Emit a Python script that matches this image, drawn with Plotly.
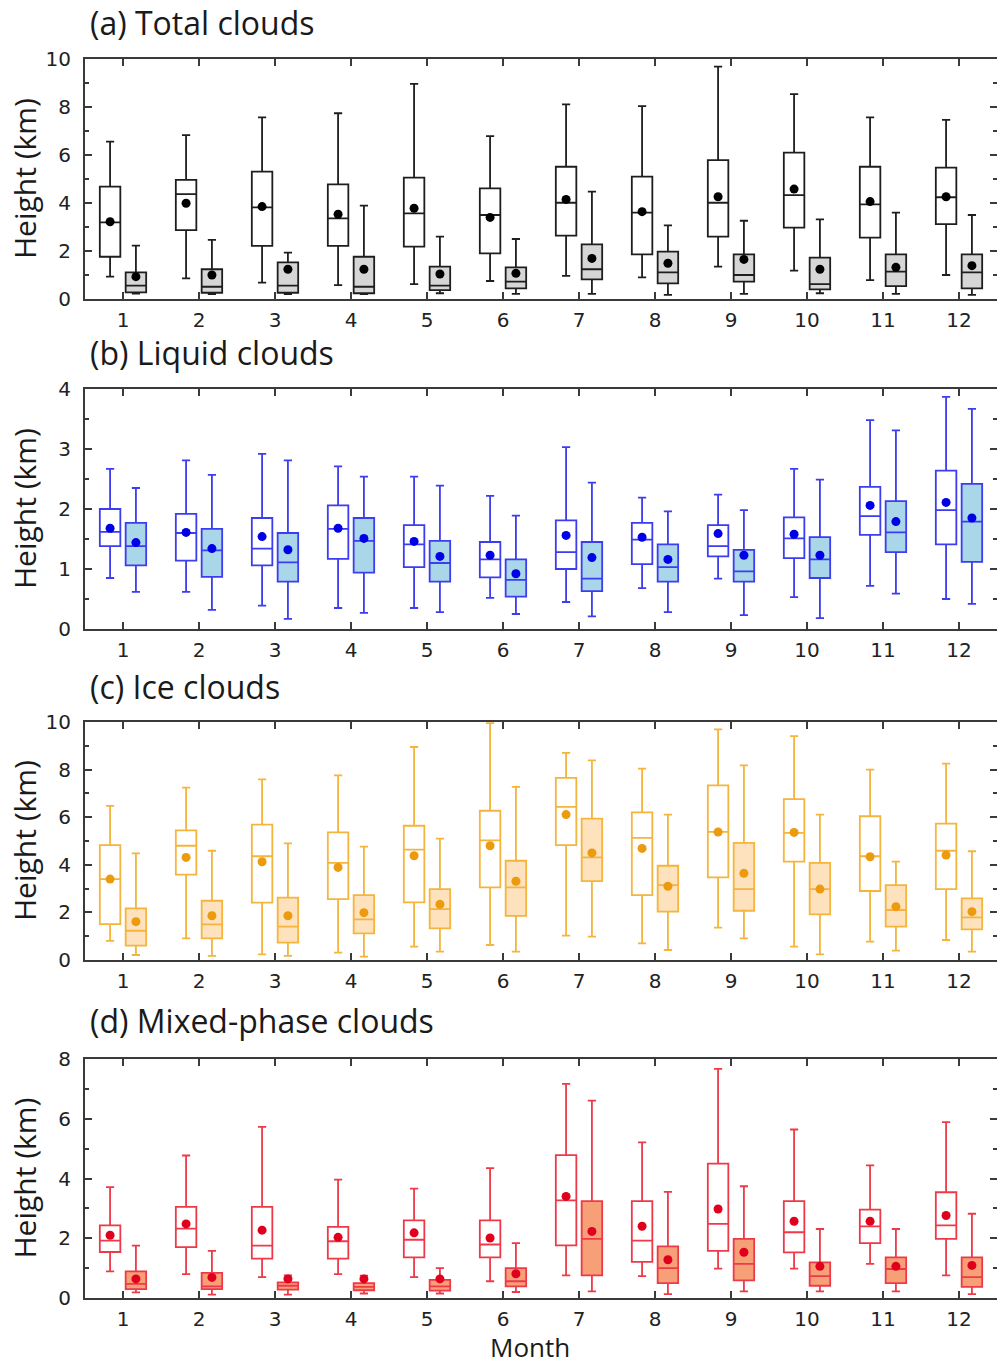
import plotly.graph_objects as go

months = list(range(1, 13))

# ---------------- (a) Total clouds ----------------
a_top_hi   = [6.56, 6.83, 7.57, 7.74, 8.96, 6.79, 8.11, 8.04, 9.68, 8.54, 7.57, 7.46]
a_top_q3   = [4.68, 4.96, 5.31, 4.78, 5.06, 4.61, 5.51, 5.10, 5.79, 6.10, 5.51, 5.47]
a_top_med  = [3.19, 4.37, 3.82, 3.36, 3.57, 3.50, 4.01, 3.60, 4.01, 4.33, 3.94, 4.24]
a_top_q1   = [1.76, 2.87, 2.21, 2.21, 2.18, 1.90, 2.64, 1.86, 2.60, 2.97, 2.56, 3.12]
a_top_lo   = [0.93, 0.86, 0.68, 0.58, 0.62, 0.75, 0.96, 0.90, 1.35, 1.18, 0.79, 1.00]
a_top_mean = [3.22, 3.99, 3.85, 3.53, 3.78, 3.40, 4.15, 3.64, 4.26, 4.58, 4.06, 4.26]

a_base_hi   = [2.22, 2.46, 1.93, 3.89, 2.60, 2.50, 4.47, 3.07, 3.26, 3.32, 3.60, 3.50]
a_base_q3   = [1.11, 1.24, 1.53, 1.76, 1.35, 1.32, 2.28, 1.97, 1.86, 1.72, 1.86, 1.86]
a_base_med  = [0.56, 0.51, 0.56, 0.51, 0.56, 0.72, 1.24, 1.11, 1.00, 0.62, 1.14, 1.11]
a_base_q1   = [0.28, 0.26, 0.26, 0.24, 0.37, 0.44, 0.82, 0.65, 0.72, 0.40, 0.54, 0.44]
a_base_lo   = [0.22, 0.20, 0.20, 0.20, 0.24, 0.21, 0.21, 0.17, 0.21, 0.24, 0.21, 0.17]
a_base_mean = [0.93, 1.00, 1.24, 1.24, 1.04, 1.07, 1.69, 1.49, 1.65, 1.24, 1.32, 1.39]

# ---------------- (b) Liquid clouds ----------------
b_top_hi   = [2.67, 2.81, 2.92, 2.71, 2.54, 2.22, 3.03, 2.19, 2.24, 2.67, 3.48, 3.87]
b_top_q3   = [2.00, 1.92, 1.85, 2.06, 1.73, 1.45, 1.81, 1.77, 1.73, 1.86, 2.37, 2.64]
b_top_med  = [1.62, 1.60, 1.34, 1.67, 1.41, 1.16, 1.28, 1.49, 1.38, 1.51, 1.88, 1.98]
b_top_q1   = [1.38, 1.14, 1.06, 1.17, 1.03, 0.86, 1.00, 1.08, 1.21, 1.18, 1.57, 1.41]
b_top_lo   = [0.85, 0.62, 0.39, 0.35, 0.35, 0.52, 0.45, 0.68, 0.84, 0.53, 0.72, 0.50]
b_top_mean = [1.68, 1.61, 1.54, 1.68, 1.46, 1.23, 1.56, 1.53, 1.59, 1.58, 2.06, 2.11]

b_base_hi   = [2.35, 2.57, 2.81, 2.54, 2.39, 1.89, 2.44, 1.96, 1.98, 2.49, 3.31, 3.67]
b_base_q3   = [1.77, 1.67, 1.60, 1.85, 1.47, 1.16, 1.45, 1.41, 1.32, 1.53, 2.13, 2.42]
b_base_med  = [1.38, 1.31, 1.11, 1.47, 1.10, 0.82, 0.84, 1.03, 0.96, 1.16, 1.61, 1.79]
b_base_q1   = [1.06, 0.87, 0.79, 0.94, 0.79, 0.54, 0.63, 0.79, 0.79, 0.85, 1.28, 1.12]
b_base_lo   = [0.62, 0.32, 0.17, 0.27, 0.28, 0.25, 0.21, 0.28, 0.23, 0.18, 0.59, 0.42]
b_base_mean = [1.44, 1.34, 1.32, 1.51, 1.21, 0.92, 1.19, 1.16, 1.23, 1.23, 1.79, 1.85]

# ---------------- (c) Ice clouds ----------------
c_top_hi   = [6.48, 7.24, 7.59, 7.76, 8.95, 9.95, 8.70, 8.04, 9.69, 9.41, 8.00, 8.25]
c_top_q3   = [4.83, 5.45, 5.69, 5.36, 5.64, 6.27, 7.65, 6.20, 7.34, 6.76, 6.04, 5.73]
c_top_med  = [3.40, 4.80, 4.36, 4.08, 4.64, 5.03, 6.43, 5.13, 5.38, 5.34, 4.36, 4.59]
c_top_q1   = [1.51, 3.59, 2.41, 2.56, 2.42, 3.05, 4.83, 2.73, 3.47, 4.13, 2.90, 2.98]
c_top_lo   = [0.80, 0.91, 0.24, 0.31, 0.56, 0.63, 1.02, 0.70, 1.36, 0.56, 0.77, 0.84]
c_top_mean = [3.40, 4.31, 4.13, 3.89, 4.38, 4.80, 6.11, 4.69, 5.38, 5.36, 4.34, 4.41]

c_base_hi   = [4.48, 4.59, 4.90, 4.76, 5.10, 7.27, 8.39, 6.11, 8.18, 6.11, 4.13, 4.57]
c_base_q3   = [2.17, 2.49, 2.62, 2.73, 2.98, 4.17, 5.94, 3.96, 4.92, 4.08, 3.15, 2.59]
c_base_med  = [1.23, 1.50, 1.40, 1.71, 2.14, 3.05, 4.31, 3.15, 2.98, 2.98, 2.10, 1.79]
c_base_q1   = [0.60, 0.91, 0.73, 1.12, 1.33, 1.85, 3.31, 2.03, 2.07, 1.92, 1.40, 1.29]
c_base_lo   = [0.21, 0.17, 0.17, 0.14, 0.35, 0.35, 0.98, 0.42, 0.91, 0.24, 0.39, 0.35]
c_base_mean = [1.61, 1.86, 1.86, 1.99, 2.34, 3.31, 4.50, 3.10, 3.64, 2.98, 2.24, 2.03]

# ---------------- (d) Mixed-phase clouds ----------------
d_top_hi   = [3.71, 4.77, 5.73, 3.96, 3.66, 4.35, 7.17, 5.21, 7.67, 5.64, 4.44, 5.89]
d_top_q3   = [2.43, 3.05, 3.05, 2.38, 2.60, 2.60, 4.78, 3.24, 4.50, 3.24, 2.96, 3.54]
d_top_med  = [1.92, 2.32, 1.75, 1.90, 1.95, 1.79, 3.27, 1.92, 2.48, 2.20, 2.40, 2.43]
d_top_q1   = [1.54, 1.70, 1.32, 1.32, 1.36, 1.36, 1.76, 1.21, 1.58, 1.53, 1.84, 1.98]
d_top_lo   = [0.89, 0.80, 0.70, 0.80, 0.70, 0.56, 0.76, 0.73, 0.98, 0.98, 1.14, 0.76]
d_top_mean = [2.10, 2.48, 2.27, 2.03, 2.18, 2.01, 3.40, 2.40, 2.98, 2.57, 2.57, 2.76]

d_base_hi   = [1.75, 1.58, 0.76, 0.75, 1.00, 1.84, 6.61, 3.55, 3.74, 2.31, 2.31, 2.82]
d_base_q3   = [0.89, 0.84, 0.52, 0.50, 0.61, 1.00, 3.24, 1.73, 1.98, 1.19, 1.36, 1.36]
d_base_med  = [0.47, 0.39, 0.41, 0.37, 0.39, 0.56, 1.98, 1.00, 1.14, 0.73, 0.97, 0.70]
d_base_q1   = [0.30, 0.30, 0.28, 0.26, 0.25, 0.39, 0.76, 0.50, 0.59, 0.41, 0.50, 0.37]
d_base_lo   = [0.19, 0.11, 0.11, 0.15, 0.15, 0.20, 0.22, 0.13, 0.22, 0.22, 0.22, 0.13]
d_base_mean = [0.64, 0.69, 0.64, 0.64, 0.64, 0.81, 2.23, 1.28, 1.53, 1.06, 1.06, 1.09]

panels = [
    dict(title="(a) Total clouds", ymax=10, dtick=2, minor=1,
         line="#1e1e1e", fill="#d6d6d6", dot="#000000",
         top=(a_top_lo, a_top_q1, a_top_med, a_top_q3, a_top_hi, a_top_mean),
         base=(a_base_lo, a_base_q1, a_base_med, a_base_q3, a_base_hi, a_base_mean)),
    dict(title="(b) Liquid clouds", ymax=4, dtick=1, minor=0.5,
         line="#3c3cf0", fill="#a9d6e8", dot="#0000e6",
         top=(b_top_lo, b_top_q1, b_top_med, b_top_q3, b_top_hi, b_top_mean),
         base=(b_base_lo, b_base_q1, b_base_med, b_base_q3, b_base_hi, b_base_mean)),
    dict(title="(c) Ice clouds", ymax=10, dtick=2, minor=1,
         line="#f5b43c", fill="#fde2bd", dot="#ec9a0e",
         top=(c_top_lo, c_top_q1, c_top_med, c_top_q3, c_top_hi, c_top_mean),
         base=(c_base_lo, c_base_q1, c_base_med, c_base_q3, c_base_hi, c_base_mean)),
    dict(title="(d) Mixed-phase clouds", ymax=8, dtick=2, minor=1,
         line="#ee3a48", fill="#f7a078", dot="#e0001e",
         top=(d_top_lo, d_top_q1, d_top_med, d_top_q3, d_top_hi, d_top_mean),
         base=(d_base_lo, d_base_q1, d_base_med, d_base_q3, d_base_hi, d_base_mean)),
]

W, H = 997, 1367
# plot-area pixel extents (top, bottom) for each panel
panel_px = [(59, 299), (389, 629), (722, 960), (1059, 1298)]
title_px = [22, 353, 686, 1020]
x_left_px = 85

OFFSET = 0.17
BOXW = 0.27
TEXT_FONT = "Open Sans"

fig = go.Figure()
layout = dict(width=W, height=H, margin=dict(l=0, r=0, t=0, b=0, pad=0),
              paper_bgcolor="white", plot_bgcolor="white", showlegend=False)
annotations = []

for i, p in enumerate(panels):
    n = "" if i == 0 else str(i + 1)
    xa, ya = "x" + n, "y" + n
    for stats, shift, fill in ((p["top"], -OFFSET, "white"), (p["base"], OFFSET, p["fill"])):
        lo, q1, med, q3, hi, mean = stats
        pos = [m + shift for m in months]
        fig.add_trace(go.Box(
            x=pos, lowerfence=lo, q1=q1, median=med, q3=q3, upperfence=hi,
            width=BOXW, whiskerwidth=0.4, fillcolor=fill,
            line=dict(color=p["line"], width=1.8), boxpoints=False,
            hoverinfo="skip", xaxis=xa, yaxis=ya))
        fig.add_trace(go.Scatter(
            x=pos, y=mean, mode="markers",
            marker=dict(color=p["dot"], size=9, line=dict(width=0)),
            hoverinfo="skip", xaxis=xa, yaxis=ya))

    top, bot = panel_px[i]
    axis_common = dict(showline=True, linecolor="#3a3a3a", linewidth=2, mirror="ticks",
                       ticks="inside", ticklen=7, tickwidth=2, tickcolor="#3a3a3a",
                       showgrid=False, zeroline=False, automargin=False,
                       tickfont=dict(family="DejaVu Sans", size=20, color="#222222"))
    layout["xaxis" + n] = dict(axis_common, domain=[x_left_px / W, 1.0], range=[0.5, 12.5],
                               tickmode="array", tickvals=months, ticktext=[str(m) for m in months],
                               anchor=ya, ticklabelstandoff=2)
    layout["yaxis" + n] = dict(axis_common, domain=[1 - bot / H, 1 - top / H], range=[0, p["ymax"]],
                               tick0=0, dtick=p["dtick"], anchor=xa, ticklabelstandoff=8,
                               minor=dict(ticks="inside", ticklen=4, tickwidth=2,
                                          tickcolor="#3a3a3a", dtick=p["minor"], tick0=0))
    annotations.append(dict(text=p["title"], x=88 / W, y=1 - title_px[i] / H,
                            xref="paper", yref="paper", xanchor="left", yanchor="middle",
                            showarrow=False, font=dict(family=TEXT_FONT, size=32, color="#1a1a1a")))
    annotations.append(dict(text="Height (km)", x=24 / W, y=1 - (top + bot) / 2 / H,
                            xref="paper", yref="paper", xanchor="center", yanchor="middle",
                            textangle=-90, showarrow=False,
                            font=dict(family=TEXT_FONT, size=30, color="#1a1a1a")))

annotations.append(dict(text="Month", x=530 / W, y=0.0, xref="paper", yref="paper",
                        xanchor="center", yanchor="bottom", showarrow=False,
                        font=dict(family=TEXT_FONT, size=26, color="#1a1a1a")))
layout["annotations"] = annotations
fig.update_layout(**layout)
fig.write_html("out.html")
